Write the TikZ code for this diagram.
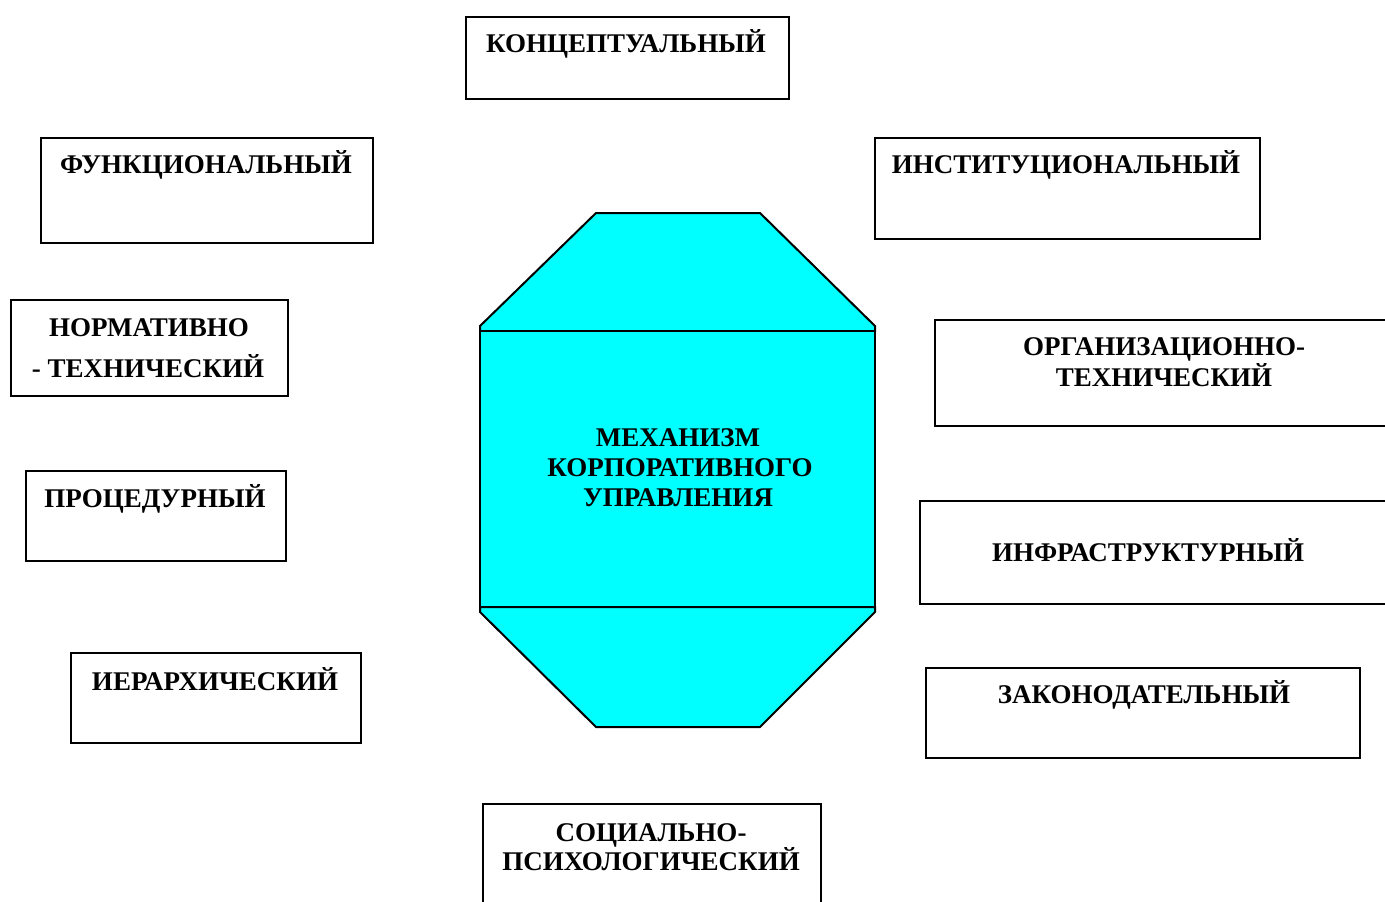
\documentclass[tikz,border=0pt]{standalone}
\usepackage{fontspec}
\setmainfont{Liberation Serif}
\definecolor{aqua}{RGB}{0,255,255}
\begin{document}
\begin{tikzpicture}[x=1pt,y=-1pt,
  box/.style={draw=black, line width=2.4pt, fill=white, inner sep=0pt, anchor=north west},
  lbl/.style={font=\bfseries\fontsize{27}{31}\selectfont, inner sep=0pt, anchor=base},
  part/.style={draw=black, line width=2pt, fill=aqua, line join=miter}]
\useasboundingbox (0,0) rectangle (1385,902);
\clip (0,0) rectangle (1385,902);
\fill[white] (0,0) rectangle (1385,902);
% central octagon
\draw[part] (480,331) -- (480,326) -- (596,213) -- (760,213) -- (875,326) -- (875,331) -- cycle;
\draw[part] (480,331) rectangle (875,607);
\draw[part] (480,607) -- (480,612) -- (596,727) -- (760,727) -- (875,612) -- (875,607) -- cycle;
\node[lbl] (m1) at (678,446) {МЕХАНИЗМ};
\node[lbl] (m2) at (680,476) {КОРПОРАТИВНОГО};
\node[lbl] (m3) at (678,506) {УПРАВЛЕНИЯ};
% boxes
\node[box, minimum width=323, minimum height=82] (b1) at (465,16) {};
\node[lbl] (t1) at (626,52) {КОНЦЕПТУАЛЬНЫЙ};
\node[box, minimum width=332, minimum height=105] (b2) at (40,137) {};
\node[lbl] (t2) at (206,173) {ФУНКЦИОНАЛЬНЫЙ};
\node[box, minimum width=385, minimum height=101] (b3) at (874,137) {};
\node[lbl] (t3) at (1066,173) {ИНСТИТУЦИОНАЛЬНЫЙ};
\node[box, minimum width=277, minimum height=96] (b4) at (10,299) {};
\node[lbl] (t4a) at (149,336) {НОРМАТИВНО};
\node[lbl] (t4b) at (148,377) {- ТЕХНИЧЕСКИЙ};
\node[box, minimum width=260, minimum height=90] (b5) at (25,470) {};
\node[lbl] (t5) at (155,507) {ПРОЦЕДУРНЫЙ};
\node[box, minimum width=290, minimum height=90] (b6) at (70,652) {};
\node[lbl] (t6) at (215,690) {ИЕРАРХИЧЕСКИЙ};
\node[box, minimum width=480, minimum height=106] (b7) at (934,319) {};
\node[lbl] (t7a) at (1164,355) {ОРГАНИЗАЦИОННО-};
\node[lbl] (t7b) at (1164,386) {ТЕХНИЧЕСКИЙ};
\node[box, minimum width=500, minimum height=103] (b8) at (919,500) {};
\node[lbl] (t8) at (1148,561) {ИНФРАСТРУКТУРНЫЙ};
\node[box, minimum width=434, minimum height=90] (b9) at (925,667) {};
\node[lbl] (t9) at (1144,703) {ЗАКОНОДАТЕЛЬНЫЙ};
\node[box, minimum width=338, minimum height=130] (b10) at (482,803) {};
\node[lbl] (t10a) at (651,841) {СОЦИАЛЬНО-};
\node[lbl] (t10b) at (651,870) {ПСИХОЛОГИЧЕСКИЙ};
\end{tikzpicture}
\end{document}
